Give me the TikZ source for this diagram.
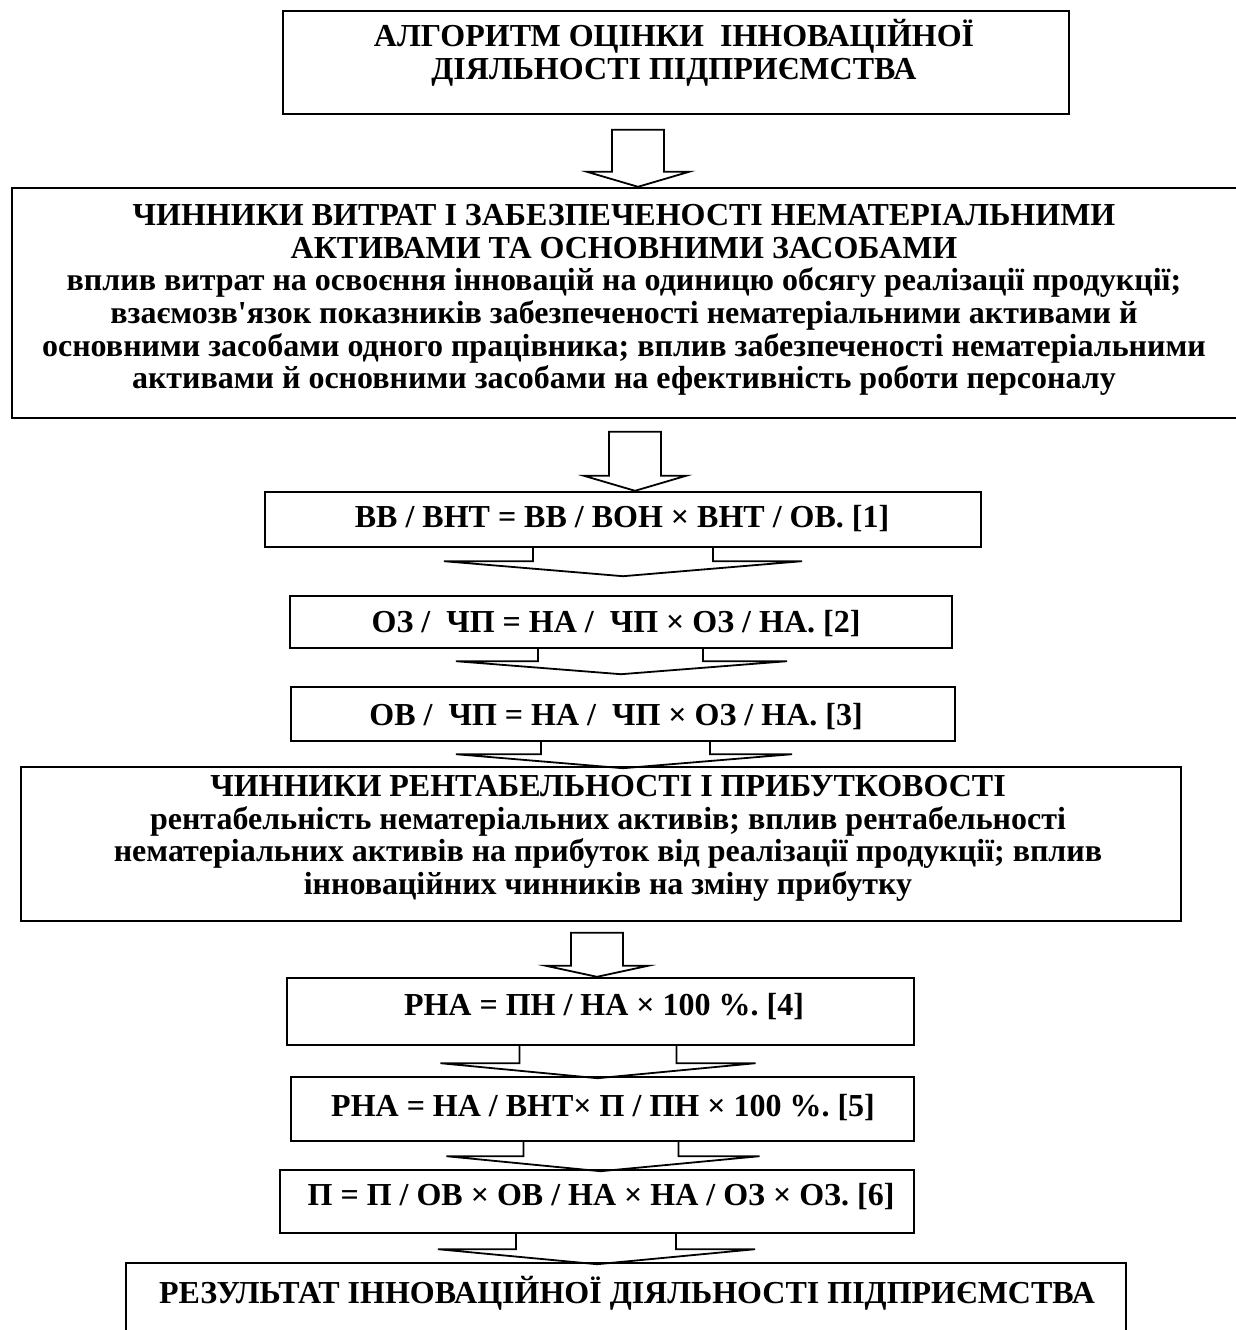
\documentclass[tikz,border=0pt]{standalone}
\usepackage{fontspec}
\setmainfont{Liberation Serif}[Ligatures=TeXOff]
\frenchspacing
\begin{document}
\begin{tikzpicture}[x=1pt,y=-1pt,
		box/.style={draw,line width=2.4pt,inner sep=0pt},
		txt/.style={font=\fontsize{32}{32.6}\selectfont\bfseries,align=center,inner sep=0pt},
		hollow/.style={draw,line width=1.8pt,line join=miter}]
		\useasboundingbox (0,0) rectangle (1235,1330);
		% boxes
		\node[box,minimum width=786pt,minimum height=103pt] (alg) at (676,62.5) {};
		\node[box,minimum width=1232pt,minimum height=230pt] (fac1) at (628,303) {};
		\node[box,minimum width=716pt,minimum height=55pt] (f1) at (623,519.5) {};
		\node[box,minimum width=662pt,minimum height=52pt] (f2) at (621,622) {};
		\node[box,minimum width=664pt,minimum height=54pt] (f3) at (623,714) {};
		\node[box,minimum width=1160pt,minimum height=154pt] (fac2) at (601,844) {};
		\node[box,minimum width=627pt,minimum height=67pt] (f4) at (600.5,1011.5) {};
		\node[box,minimum width=623pt,minimum height=64pt] (f5) at (602.5,1109) {};
		\node[box,minimum width=634pt,minimum height=63pt] (f6) at (597,1201.5) {};
		\node[box,minimum width=1000pt,minimum height=82pt] (res) at (626,1304) {};
		% texts
		\node[txt] (algtext) at (674,52.5) {АЛГОРИТМ ОЦІНКИ \ ІННОВАЦІЙНОЇ\\ДІЯЛЬНОСТІ ПІДПРИЄМСТВА};
		\node[txt] (fac1text) at (624,300) {ЧИННИКИ ВИТРАТ І ЗАБЕЗПЕЧЕНОСТІ НЕМАТЕРІАЛЬНИМИ\\
			АКТИВАМИ ТА ОСНОВНИМИ ЗАСОБАМИ\\
			вплив витрат на освоєння інновацій на одиницю обсягу реалізації продукції;\\
			взаємозв'язок показників забезпеченості нематеріальними активами й\\
			основними засобами одного працівника; вплив забезпеченості нематеріальними\\
			активами й основними засобами на ефективність роботи персоналу};
		\node[txt] (f1text) at (622,519) {ВВ / ВНТ = ВВ / ВОН × ВНТ / ОВ. [1]};
		\node[txt] (f2text) at (616,624) {ОЗ / \ ЧП = НА / \ ЧП × ОЗ / НА. [2]};
		\node[txt] (f3text) at (616,717) {ОВ / \ ЧП = НА / \ ЧП × ОЗ / НА. [3]};
		\node[txt] (fac2text) at (608,838.5) {ЧИННИКИ РЕНТАБЕЛЬНОСТІ І ПРИБУТКОВОСТІ\\
			рентабельність нематеріальних активів; вплив рентабельності\\
			нематеріальних активів на прибуток від реалізації продукції; вплив\\
			інноваційних чинників на зміну прибутку};
		\node[txt] (f4text) at (604,1007) {РНА = ПН / НА × 100 \%. [4]};
		\node[txt] (f5text) at (603,1108) {РНА = НА / ВНТ× П / ПН × 100 \%. [5]};
		\node[txt] (f6text) at (601,1197) {П = П / ОВ × ОВ / НА × НА / ОЗ × ОЗ. [6]};
		\node[txt] (restext) at (627,1293) {РЕЗУЛЬТАТ ІННОВАЦІЙНОЇ ДІЯЛЬНОСТІ ПІДПРИЄМСТВА};
		% narrow arrows
		\draw[hollow] ([xshift=10pt]fac1.north) -- ++(-51,-15) -- ++(25,0) -- ++(0,-42) -- ++(52,0) -- ++(0,42) -- ++(25,0) -- cycle;
		\draw[hollow] ([xshift=12pt]f1.north) -- ++(-51,-15) -- ++(25,0) -- ++(0,-44) -- ++(52,0) -- ++(0,44) -- ++(25,0) -- cycle;
		\draw[hollow] ([xshift=-3.5pt]f4.north) -- ++(-51,-11) -- ++(25,0) -- ++(0,-33) -- ++(52,0) -- ++(0,33) -- ++(25,0) -- cycle;
		% wide arrows
		\draw[hollow] ([xshift=-90pt]f1.south) -- ++(0,13) -- ++(-89,0) -- ++(179,15) -- ++(179,-15) -- ++(-89,0) -- ++(0,-13);
		\draw[hollow] ([xshift=-83pt]f2.south) -- ++(0,12) -- ++(-82,0) -- ++(165,13) -- ++(166,-13) -- ++(-84,0) -- ++(0,-12);
		\draw[hollow] ([xshift=-82pt]f3.south) -- ++(0,12) -- ++(-85,0) -- ++(167,14) -- ++(169,-14) -- ++(-82,0) -- ++(0,-12);
		\draw[hollow] ([xshift=-81pt]f4.south) -- ++(0,17) -- ++(-79,0) -- ++(157,15) -- ++(158,-15) -- ++(-79,0) -- ++(0,-17);
		\draw[hollow] ([xshift=-79pt]f5.south) -- ++(0,14) -- ++(-77,0) -- ++(154,15) -- ++(159,-15) -- ++(-81,0) -- ++(0,-14);
		\draw[hollow] ([xshift=-81pt]f6.south) -- ++(0,15) -- ++(-78,0) -- ++(159,15) -- ++(158,-15) -- ++(-79,0) -- ++(0,-15);
	\end{tikzpicture}
\end{document}
